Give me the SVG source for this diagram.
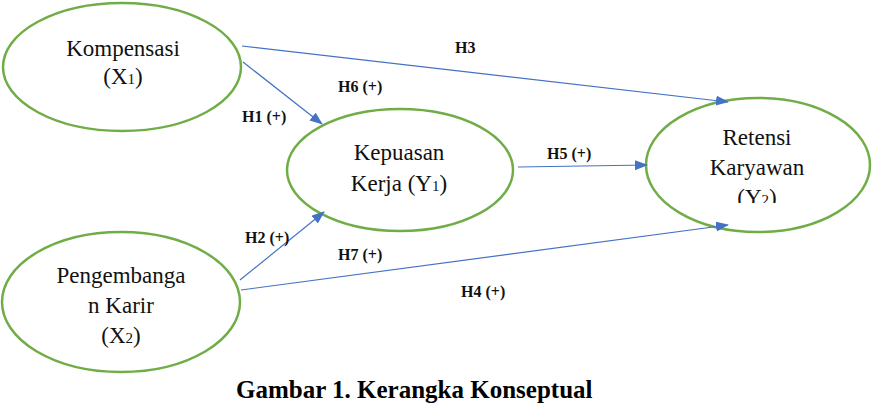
<svg xmlns="http://www.w3.org/2000/svg" width="873" height="407" viewBox="0 0 873 407">
<style>
.node{fill:#fff;stroke:#70ad47;stroke-width:2.5}
.t{font-family:'Liberation Serif','Times New Roman','DejaVu Serif',serif;font-size:23px;fill:#111;text-anchor:middle}
.l{font-family:'Liberation Serif','Times New Roman','DejaVu Serif',serif;font-size:16px;font-weight:bold;fill:#111}
.e{stroke:#4472c4;stroke-width:1.2;fill:none;marker-end:url(#ah)}
.cap{font-family:'Liberation Serif','Times New Roman','DejaVu Serif',serif;font-size:25px;font-weight:bold;fill:#000}
</style>
<defs>
<marker id="ah" markerWidth="14" markerHeight="12" refX="12" refY="5" orient="auto" markerUnits="userSpaceOnUse">
<path d="M0,0 L13,5 L0,10 z" fill="#4472c4"/>
</marker>
<clipPath id="clipY2"><rect x="640" y="90" width="233" height="113"/></clipPath>
</defs>
<rect width="873" height="407" fill="#fff"/>
<g id="n_kompensasi">
<ellipse class="node" cx="122" cy="67" rx="119" ry="64"/>
<text class="t" x="123" y="56">Kompensasi</text>
<text class="t" x="123" y="84">(X<tspan font-size="15">1</tspan>)</text>
</g>
<g id="n_pengembangan">
<ellipse class="node" cx="121" cy="302" rx="119" ry="70"/>
<text class="t" x="121" y="283">Pengembanga</text>
<text class="t" x="121" y="313">n Karir</text>
<text class="t" x="121" y="343">(X<tspan font-size="15">2</tspan>)</text>
</g>
<g id="n_kepuasan">
<ellipse class="node" cx="400" cy="170" rx="113" ry="61"/>
<text class="t" x="399" y="160">Kepuasan</text>
<text class="t" x="399" y="191">Kerja (Y<tspan font-size="15">1</tspan>)</text>
</g>
<g id="n_retensi">
<ellipse class="node" cx="758" cy="165" rx="112" ry="67"/>
<text class="t" x="757" y="145">Retensi</text>
<text class="t" x="757" y="175">Karyawan</text>
<text class="t" x="757" y="205" clip-path="url(#clipY2)">(Y<tspan font-size="15">2</tspan>)</text>
</g>
<g id="connectors">
<line class="e" x1="242" y1="46" x2="728" y2="102"/>
<line class="e" x1="243" y1="62" x2="322" y2="124"/>
<line class="e" x1="518" y1="167" x2="647" y2="165"/>
<line class="e" x1="240" y1="280" x2="324" y2="212"/>
<line class="e" x1="241" y1="290" x2="728" y2="225"/>
</g>
<g id="labels">
<text class="l" x="455" y="53">H3</text>
<text class="l" x="338" y="92">H6 (+)</text>
<text class="l" x="242" y="122">H1 (+)</text>
<text class="l" x="547" y="159">H5 (+)</text>
<text class="l" x="245" y="243">H2 (+)</text>
<text class="l" x="338" y="260">H7 (+)</text>
<text class="l" x="461" y="297">H4 (+)</text>
</g>
<text class="cap" x="236" y="398">Gambar 1. Kerangka Konseptual</text>
</svg>
